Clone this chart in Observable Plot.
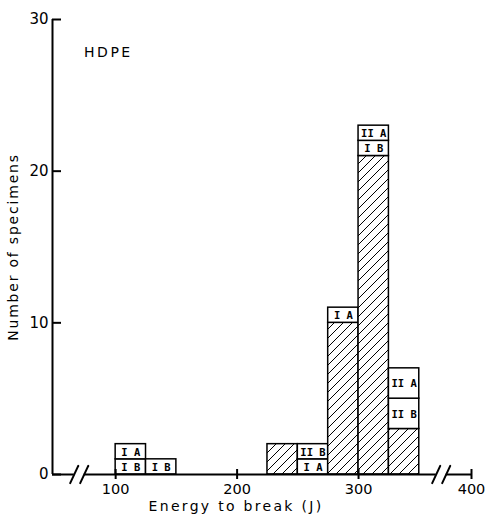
<!DOCTYPE html>
<html>
<head>
<meta charset="utf-8">
<script src="https://cdn.jsdelivr.net/npm/d3@7"></script>
<script src="https://cdn.jsdelivr.net/npm/@observablehq/plot@0.6"></script>
<style>
  html, body { margin: 0; padding: 0; background: #fff; }
  svg { display: block; }
</style>
</head>
<body>
<div id="chart"></div>
<script>
// ---- data ----
const binStarts = [100, 100, 125, 225, 250, 250, 275, 275, 300, 300, 300, 325, 325, 325];
const segTypes  = ["IB", "IA", "IB", "hatched", "IA", "IIB", "hatched", "IA", "hatched", "IB", "IIA", "hatched", "IIB", "IIA"];
const segCounts = [1, 1, 1, 2, 1, 1, 10, 1, 21, 1, 1, 3, 2, 2];
const binWidth = 25;
const segLabels = {IA: "I A", IB: "I B", IIA: "II A", IIB: "II B"};
const xTicks = [100, 200, 300, 400];
const yTicks = [0, 10, 20, 30];
const axisBreaks = [70, 371];
const annotations = [{x: 74, y: 27.8, text: "HDPE"}];
const xTitle = "Energy to break (J)";
const yTitle = "Number of specimens";

// ---- broken x axis: compress values beyond 350 ----
const breakAt = 350, compress = 0.86;
const xt = v => v > breakAt ? breakAt + (v - breakAt) * compress : v;

// ---- layout ----
const W = 487, H = 518;
const mL = 52, mR = 16, mT = 19, mB = 44;
const xDomain = [48, xt(400)];
const yDomain = [0, 30];
const xs = d3.scaleLinear(xDomain, [mL, W - mR]);
const ys = d3.scaleLinear(yDomain, [H - mB, mT]);

// stacked segments
const cum = {};
const segs = binStarts.map((b, i) => {
  const y1 = cum[b] || 0;
  const y2 = y1 + segCounts[i];
  cum[b] = y2;
  return {x1: xt(b), x2: xt(b + binWidth), y1, y2, type: segTypes[i]};
});
const labeled = segs.filter(d => d.type !== "hatched");

const xStart = xDomain[0], xEnd = xDomain[1];
const gap = 5;
const baseSegs = [];
{
  let s = xStart;
  for (const b of axisBreaks.map(xt)) {
    baseSegs.push({a: s, b: xs.invert(xs(b) - gap)});
    s = xs.invert(xs(b) + gap);
  }
  baseSegs.push({a: s, b: xEnd});
}
const lineShape = {draw(ctx, l) { ctx.moveTo(0, 0); ctx.lineTo(0, -l); }};
const slashMark = dx => Plot.vector(axisBreaks, {
  x: xt, y: () => 0, dx, length: 19, rotate: 25, anchor: "middle",
  shape: lineShape, stroke: "#000", strokeWidth: 2
});

const font = "DejaVu Sans, sans-serif";

const chart = Plot.plot({
  width: W, height: H,
  marginLeft: mL, marginRight: mR, marginTop: mT, marginBottom: mB,
  style: {fontFamily: font, background: "#fff", color: "#000"},
  x: {type: "linear", domain: xDomain, axis: null},
  y: {type: "linear", domain: yDomain, axis: null},
  marks: [
    // bars
    Plot.rect(segs, {
      x1: "x1", x2: "x2", y1: "y1", y2: "y2",
      fill: d => d.type === "hatched" ? "url(#hatch)" : "#fff",
      stroke: "#000", strokeWidth: 1.5
    }),
    Plot.text(labeled, {
      x: d => (d.x1 + d.x2) / 2, y: d => (d.y1 + d.y2) / 2,
      text: d => segLabels[d.type],
      fontFamily: "DejaVu Sans Mono, monospace", fontWeight: "bold", fontSize: 10.5,
      fill: "#000", dy: 0.5
    }),
    // baseline with breaks
    Plot.ruleY(baseSegs, {y: () => 0, x1: "a", x2: "b", stroke: "#000", strokeWidth: 2}),
    slashMark(-gap),
    slashMark(gap),
    // y axis
    Plot.ruleX([xStart], {y1: yDomain[0], y2: yDomain[1], stroke: "#000", strokeWidth: 2}),
    Plot.ruleY(yTicks, {x1: xStart, x2: xs.invert(xs(xStart) + 9), stroke: "#000", strokeWidth: 2}),
    Plot.axisY({ticks: yTicks, tickSize: 0, tickPadding: 4, fontSize: 15, label: null, tickFormat: d => String(d)}),
    // x axis ticks
    Plot.ruleX(xTicks, {x: xt, y1: ys.invert(ys(0) + 5), y2: ys.invert(ys(0) - 5), stroke: "#000", strokeWidth: 2}),
    Plot.text(xTicks, {x: xt, y: 0, text: d => String(d), dy: 15, fontSize: 14.5, fill: "#000"}),
    // titles
    Plot.text([xTitle], {frameAnchor: "bottom", dx: -26, dy: 36, fontSize: 14, fill: "#000",
      textAnchor: "middle", text: d => d}),
    Plot.text([yTitle], {frameAnchor: "left", dx: -39, rotate: -90, fontSize: 14, fill: "#000",
      textAnchor: "middle", text: d => d}),
    Plot.text(annotations, {x: "x", y: "y", text: "text", textAnchor: "start", fontSize: 14, fill: "#000"})
  ]
});

// hatch pattern
const defs = document.createElementNS("http://www.w3.org/2000/svg", "defs");
defs.innerHTML = `<pattern id="hatch" patternUnits="userSpaceOnUse" width="9" height="9">
  <rect width="9" height="9" fill="#fff"/>
  <path d="M0,9 L9,0 M-1,1 L1,-1 M8,10 L10,8" stroke="#000" stroke-width="1"/>
</pattern>`;
chart.insertBefore(defs, chart.firstChild);

// letter spacing for plotter-like text
chart.querySelectorAll("text").forEach(t => {
  const s = t.textContent;
  if (s === xTitle) t.setAttribute("letter-spacing", "2.3");
  else if (s === yTitle) t.setAttribute("letter-spacing", "1.8");
  else if (s === "HDPE") t.setAttribute("letter-spacing", "2.5");
});

document.getElementById("chart").appendChild(chart);
</script>
</body>
</html>
